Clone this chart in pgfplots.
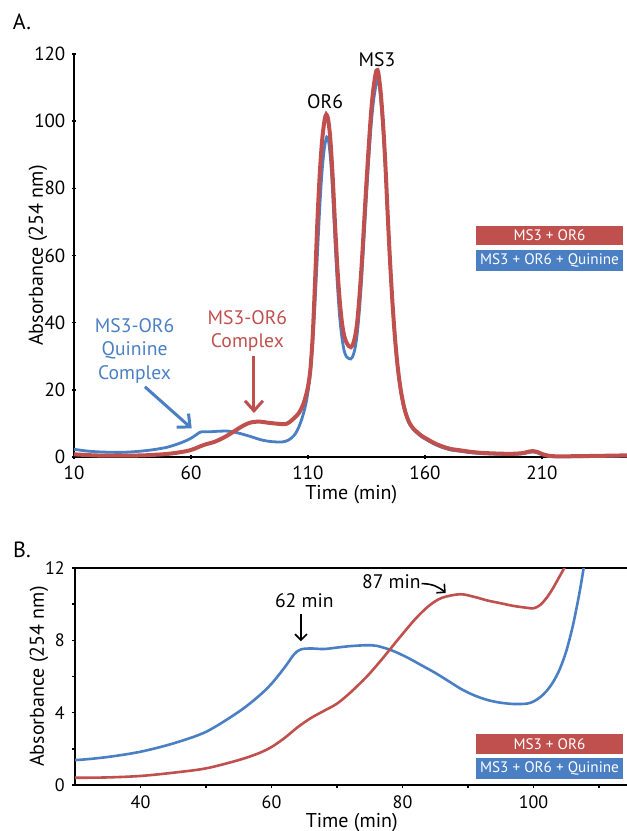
\documentclass[border=0pt]{standalone}
\usepackage{fontspec}
\setmainfont{PT Sans}
\usepackage{pgfplots}
\pgfplotsset{compat=1.18}
\usepackage{pgfplotstable}
\usetikzlibrary{arrows.meta}

\definecolor{msred}{HTML}{C0504D}
\definecolor{msblue}{HTML}{4A7FC4}

% MS3 + OR6
\pgfplotstableread{
t y
10 0.8
15 0.6
20 0.45
25 0.4
30 0.4
35 0.42
40 0.5
45 0.68
50 0.92
55 1.38
58 1.75
60 2.1
62 2.6
64 3.2
66 3.7
68 4.1
70 4.5
72 5.1
74.5 5.98
76.5 6.8
78.6 7.73
80 8.35
82 9.2
84 9.9
86 10.35
88.8 10.55
91 10.4
93 10.2
95 10.05
97 9.9
99 9.8
100 9.77
101 9.95
102 10.35
103 10.9
104 11.55
105 12.2
106 13
107 14.2
108 15.8
109 18
110 21
111 26
112 36
113 52
114 70
115 84
116 94
117 100
117.8 102
118.6 100.5
119.5 95
120.5 84
121.5 70
122.5 57
123.5 47
124.5 40
125.5 36
126.5 34
127.5 33
128.3 32.7
129 33.2
130 35.5
131 40
132 48
133 58
134 70
135 82
136 93
137 103
138 110
139 114.5
139.5 115.2
140 114.6
141 109
142 100
143 88
144 73
145 59
146 47
147 37
148 29
149 23
150 18.5
151 15
152 12.5
153 10.7
154 9.4
155 8.5
156 7.8
157 7.2
158 6.6
159 6.1
161 5.3
163 4.5
165 3.8
168 3
171 2.4
175 2
180 1.5
185 1.2
190 1.05
195 0.95
199 1
202 1.2
204 1.55
206 1.75
208 1.5
210 0.9
213 0.35
217 0.2
225 0.25
235 0.35
247 0.5
}\redtab

% MS3 + OR6 + Quinine
\pgfplotstableread{
t y
10 2.3
13 2.0
16 1.75
20 1.55
25 1.42
30 1.38
35 1.55
40 1.84
45 2.3
50 2.94
55 4.05
58 4.9
60 5.6
62 6.5
63.5 7.25
64.5 7.5
66 7.55
68 7.52
70 7.6
72 7.68
74.5 7.73
76 7.7
77.5 7.55
79 7.35
81 7.0
83 6.6
85 6.2
87 5.75
89 5.3
91 4.95
93 4.7
95 4.55
97 4.48
99 4.5
100 4.62
101 4.85
102 5.2
103 5.7
104 6.4
105 7.4
106 8.8
107 10.6
108 12.8
109 15.5
110 19.5
111 25
112 34
113 46
114 60
115 74
116 85
117 92
118 95.3
118.8 94
119.7 88
120.5 79
121.5 65
122.5 52
123.5 42
124.5 35.5
125.5 31.5
126.5 29.8
127.5 29.3
128.3 29.2
129 29.8
130 32
131 36.5
132 44
133 54
134 66
135 78
136 89
137 99
138 106
139 110.5
139.7 112.2
140.3 111.5
141 107
142 98.5
143 87
144 72.5
145 58.5
146 46.5
147 36.5
148 28.5
149 22.5
150 18
151 14.6
152 12.2
153 10.4
154 9.1
155 8.2
156 7.5
157 6.9
158 6.3
159 5.8
161 5
163 4.2
165 3.5
168 2.7
171 2.1
175 1.7
180 1.25
185 1
190 0.85
195 0.75
199 0.8
202 1
204 1.3
206 1.5
208 1.25
210 0.7
213 0.2
217 0.05
225 0.1
235 0.2
247 0.35
}\bluetab

\pgfplotsset{chrom/.style={
  scale only axis, anchor=south west,
  /pgf/number format/assume math mode=true,
  label style={font=\fontsize{10}{12}\selectfont},
  major tick length=1.6pt, minor tick length=1.6pt,
  tick align=outside, tick pos=left,
  tick style={black, line width=0.8pt},
  axis line style={line width=1pt},
  every axis y label/.style={at={([xshift=-18pt]axis description cs:0,0.5)}, rotate=90, anchor=center},
  every axis x label/.style={at={([yshift=-19pt]axis description cs:0.5,0)}, anchor=center},
  xlabel={Time (min)}, ylabel={Absorbance (254 nm)},
}}

\newcommand{\annfont}{\fontsize{9.8}{11}\selectfont}
\newcommand{\legfont}{\fontsize{7.6}{8}\selectfont}

\begin{document}
\begin{tikzpicture}
\useasboundingbox (0,0) rectangle (313.5pt,-415.5pt);

\node[font=\fontsize{11}{12}\selectfont] at (11pt,-11pt) {A.};
\node[font=\fontsize{11}{12}\selectfont] at (11pt,-275pt) {B.};

% panel A
\begin{axis}[chrom, at={(37pt,-228.5pt)}, width=277.3pt, height=201.5pt,
    xmin=10, xmax=247, ymin=0, ymax=120,
    axis lines=left, axis line style={-, line width=1pt},
    xtick={10,60,110,160,210}, ytick={0,20,...,120},
    tick label style={font=\fontsize{9.5}{11}\selectfont},
    clip=false]
\addplot[msblue, line width=1.4pt, smooth] table {\bluetab};
\addplot[msred, line width=2pt, smooth] table {\redtab};
\node[font=\annfont] at (axis cs:117.3,105.7) {OR6};
\node[font=\annfont] at (axis cs:139.5,118.2) {MS3};
\node[msred, font=\fontsize{9.8}{11.2}\selectfont, align=center] at (axis cs:84.1,37.5) {MS3-OR6\\Complex};
\node[msblue, font=\fontsize{9.8}{11.8}\selectfont, align=center] at (axis cs:35.9,31.6) {MS3-OR6\\Quinine\\Complex};
\draw[msred, line width=1.5pt, -{Straight Barb[length=5pt,width=9pt]}] (axis cs:86.9,30) -- (axis cs:86.9,13.1);
\draw[msblue, line width=1.5pt, -{Straight Barb[length=5pt,width=9pt]}] (axis cs:40.3,20.9) -- (axis cs:60.3,8.5);
\end{axis}

% panel B
\begin{axis}[chrom, at={(37.5pt,-392.5pt)}, width=276.75pt, height=108.5pt,
    xmin=30, xmax=114.5, ymin=0, ymax=12,
    xtick={40,60,80,100}, minor xtick={50,70,90,110},
    ytick={0,4,8,12}, minor ytick={2,6,10},
    tick label style={font=\fontsize{9}{11}\selectfont}]
\addplot[msblue, line width=1.3pt, smooth] table {\bluetab};
\addplot[msred, line width=1.3pt, smooth] table {\redtab};
\node[font=\annfont] at (axis cs:65,10.2) {62 min};
\draw[line width=0.8pt, -{Straight Barb[length=3pt,width=6pt]}] (axis cs:64.5,9.45) -- (axis cs:64.5,7.95);
\node[font=\annfont] at (axis cs:78.3,11.24) {87 min};
\draw[line width=0.8pt, -{Straight Barb[length=3pt,width=6pt]}] (axis cs:82.9,11.14) to[bend left=20] (axis cs:86.6,10.62);
\end{axis}

% legend boxes
\node[fill=msred, text=white, font=\legfont, minimum width=73.5pt, minimum height=9.5pt, inner sep=0pt] at (274.75pt,-117.75pt) {MS3 + OR6};
\node[fill=msblue, text=white, font=\legfont, minimum width=73.5pt, minimum height=10.5pt, inner sep=0pt] at (274.75pt,-130.25pt) {MS3 + OR6 + Quinine};
\node[fill=msred, text=white, font=\legfont, minimum width=73.5pt, minimum height=10pt, inner sep=0pt] at (274.75pt,-372pt) {MS3 + OR6};
\node[fill=msblue, text=white, font=\legfont, minimum width=73.5pt, minimum height=10.5pt, inner sep=0pt] at (274.75pt,-384.4pt) {MS3 + OR6 + Quinine};
\end{tikzpicture}
\end{document}
